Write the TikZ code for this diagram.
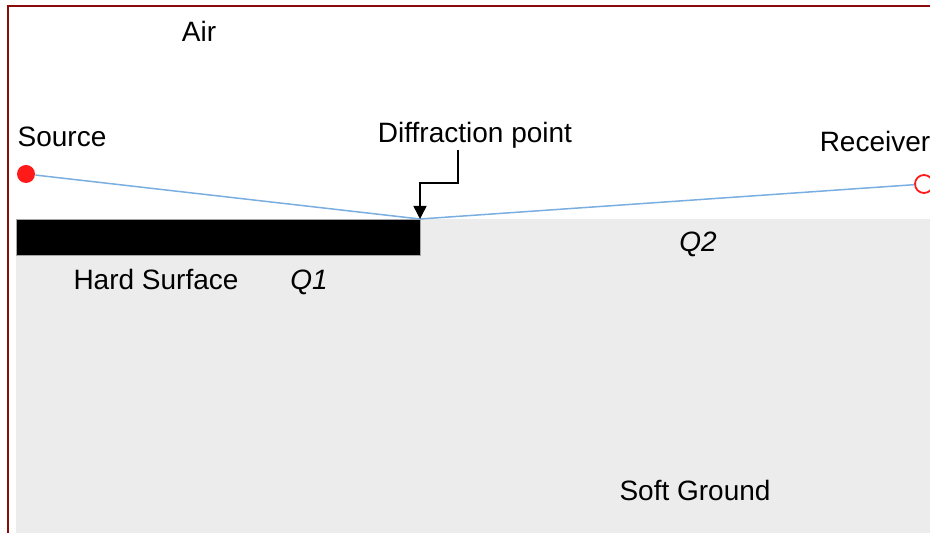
\documentclass[tikz,border=0pt]{standalone}
\usepackage{fontspec}
\setmainfont{Liberation Sans}
\definecolor{framered}{HTML}{8B0A0A}
\definecolor{groundgray}{HTML}{ECECEC}
\definecolor{raybluee}{HTML}{7AAEE0}
\definecolor{pointred}{HTML}{FF1A1A}
\usetikzlibrary{arrows.meta,positioning,calc}

\begin{document}
\begin{tikzpicture}[x=0.5pt,y=-0.5pt,
    lbl/.style={font=\fontsize{14}{17}\selectfont,inner sep=1pt},
    ray/.style={raybluee,line width=0.75pt},
    pt/.style={circle,inner sep=0pt,minimum size=9pt}]
      \useasboundingbox (0,0) rectangle (930,533);
      % Ground and hard strip
      \fill[groundgray] (16,219) rectangle (940,545);
      \filldraw[fill=black,draw=gray!70,line width=0.4pt] (16,219) rectangle (420,255);
      % Frame
      \draw[framered,line width=1.2pt] (8,545) -- (8,6) -- (940,6);
      % Points
      \node[pt,fill=pointred] (source) at (26,174) {};
      \node[pt,draw=pointred,fill=white,line width=0.9pt] (receiver) at (924,184) {};
      \coordinate (diff) at (420,219);
      % Rays
      \draw[ray] (source) -- (diff);
      \draw[ray] (diff) -- (receiver);
      % Labels
      \node[lbl] (air) at (199,31) {Air};
      \node[lbl] (srclabel) at (62,137) {Source};
      \node[lbl] (difflabel) at (475,135) {Diffraction point};
      \node[lbl] (rcvlabel) at (875,141) {Receiver};
      \node[lbl] (qtwo) at (698,244) {\itshape Q2};
      \node[lbl] (hard) at (156,279) {Hard Surface};
      \node[lbl] (qone) at (309,282) {\itshape Q1};
      \node[lbl] (soft) at (695,490) {Soft Ground};
      % Pointer to diffraction point
      \coordinate (bend) at (458,183);
      \draw[-{Triangle[length=6.5pt,width=6.5pt]},line width=0.75pt] (difflabel.south -| bend) -- (bend) -| (diff);
    \end{tikzpicture}
\end{document}
